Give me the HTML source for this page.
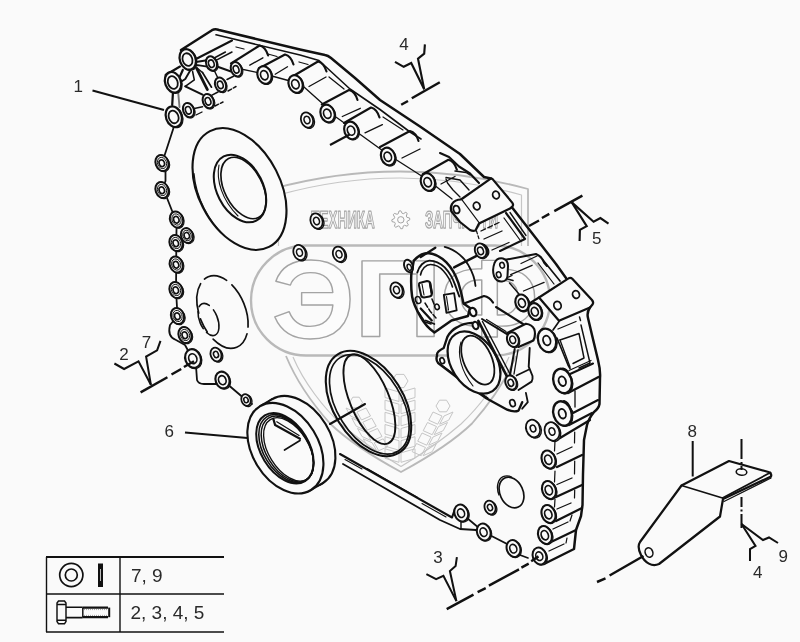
<!DOCTYPE html>
<html><head><meta charset="utf-8"><title>diagram</title>
<style>
html,body{margin:0;padding:0;background:#fafafa;}
svg{display:block;font-family:"Liberation Sans",sans-serif;}
</style></head><body>
<svg width="800" height="642" viewBox="0 0 800 642">
<defs><filter id="soft" x="0" y="0" width="100%" height="100%" filterUnits="userSpaceOnUse" color-interpolation-filters="sRGB"><feGaussianBlur stdDeviation="0.45"/></filter></defs>
<rect x="0" y="0" width="800" height="642" fill="#fafafa"/>
<g filter="url(#soft)">
<rect x="0" y="0" width="800" height="642" fill="#fafafa"/>
<g id="wm" stroke-linejoin="round">
<path d="M272,246 L272,189 Q400,154 528,189 L528,246" fill="none" stroke="#b9b9b9" stroke-width="1.8" />
<path d="M278.5,246 L278.5,195 Q400,161 521.5,195 L521.5,246" fill="none" stroke="#c6c6c6" stroke-width="1.2" />
<path d="M286,356 C298,385 318,410 330,423.5 C345,438 367,453.5 401,472 C435,453.5 457,438 472,423.5 C484,410 504,385 516,356" fill="none" stroke="#b9b9b9" stroke-width="1.8" />
<path d="M293,357 C304,383 324,408 341,424 C356,437 375,451 401,466.5 C427,451 446,437 461,424 C478,408 498,383 509,357" fill="none" stroke="#c6c6c6" stroke-width="1.2" />
<rect x="251" y="245.5" width="299" height="110" rx="55" ry="55" fill="none" stroke="#b9b9b9" stroke-width="2.4"/>
<text transform="translate(271.85,338.0) scale(1.168,1.117)" x="0" y="0" font-size="100" font-weight="bold" fill="#fcfcfc" stroke="#a4a4a4" stroke-width="1.4" vector-effect="non-scaling-stroke">Э</text>
<text transform="translate(353.7,336) scale(1.233,1.09)" x="0" y="0" font-size="100" font-weight="bold" fill="#fcfcfc" stroke="#a4a4a4" stroke-width="1.4" vector-effect="non-scaling-stroke">П</text>
<text transform="translate(440.5,335.6) scale(1.149,1.09)" x="0" y="0" font-size="100" font-weight="bold" fill="#fcfcfc" stroke="#a4a4a4" stroke-width="1.4" vector-effect="non-scaling-stroke">Ф</text>
<text x="311.3" y="227.7" font-size="24" font-weight="bold" fill="#f2f2f2" stroke="#a4a4a4" stroke-width="1.25" textLength="63.5" lengthAdjust="spacingAndGlyphs">ТЕХНИКА</text>
<text x="425" y="227.7" font-size="24" font-weight="bold" fill="#f2f2f2" stroke="#a4a4a4" stroke-width="1.25" textLength="73" lengthAdjust="spacingAndGlyphs">ЗАПЧАСТИ</text>
<path d="M409.6,218.0 L409.8,219.8 L407.3,221.1 L406.9,222.3 L408.3,224.8 L407.2,226.2 L404.5,225.3 L403.3,225.9 L402.6,228.6 L400.8,228.8 L399.5,226.3 L398.3,225.9 L395.8,227.3 L394.4,226.2 L395.3,223.5 L394.7,222.3 L392.0,221.6 L391.8,219.8 L394.3,218.5 L394.7,217.3 L393.3,214.8 L394.4,213.4 L397.1,214.3 L398.3,213.7 L399.0,211.0 L400.8,210.8 L402.1,213.3 L403.3,213.7 L405.8,212.3 L407.2,213.4 L406.3,216.1 L406.9,217.3Z" fill="#fcfcfc" stroke="#a4a4a4" stroke-width="1.0" />
<circle cx="400.8" cy="219.8" r="3.2" fill="#fafafa" stroke="#a4a4a4" stroke-width="1.0"/>
<path d="M385.0,388.0 L399.0,392.0 L399.0,401.5 L385.0,397.5 Z" fill="none" stroke="#c6c6c6" stroke-width="1.0" />
<path d="M415.0,388.0 L401.0,392.0 L401.0,401.5 L415.0,397.5 Z" fill="none" stroke="#c6c6c6" stroke-width="1.0" />
<path d="M385.0,400.2 L399.0,404.2 L399.0,413.7 L385.0,409.7 Z" fill="none" stroke="#c6c6c6" stroke-width="1.0" />
<path d="M415.0,400.2 L401.0,404.2 L401.0,413.7 L415.0,409.7 Z" fill="none" stroke="#c6c6c6" stroke-width="1.0" />
<path d="M385.0,412.3 L399.0,416.3 L399.0,425.8 L385.0,421.8 Z" fill="none" stroke="#c6c6c6" stroke-width="1.0" />
<path d="M415.0,412.3 L401.0,416.3 L401.0,425.8 L415.0,421.8 Z" fill="none" stroke="#c6c6c6" stroke-width="1.0" />
<path d="M385.0,424.5 L399.0,428.5 L399.0,438.0 L385.0,434.0 Z" fill="none" stroke="#c6c6c6" stroke-width="1.0" />
<path d="M415.0,424.5 L401.0,428.5 L401.0,438.0 L415.0,434.0 Z" fill="none" stroke="#c6c6c6" stroke-width="1.0" />
<path d="M385.0,436.7 L399.0,440.7 L399.0,450.2 L385.0,446.2 Z" fill="none" stroke="#c6c6c6" stroke-width="1.0" />
<path d="M415.0,436.7 L401.0,440.7 L401.0,450.2 L415.0,446.2 Z" fill="none" stroke="#c6c6c6" stroke-width="1.0" />
<path d="M385.0,448.8 L399.0,452.8 L399.0,462.3 L385.0,458.3 Z" fill="none" stroke="#c6c6c6" stroke-width="1.0" />
<path d="M415.0,448.8 L401.0,452.8 L401.0,462.3 L415.0,458.3 Z" fill="none" stroke="#c6c6c6" stroke-width="1.0" />
<path d="M408.0,381.0 L404.0,387.6 L396.0,387.6 L392.0,381.0 L396.0,374.4 L404.0,374.4Z" fill="none" stroke="#c6c6c6" stroke-width="1.0" />
<path d="M346.0,408.0 L355.0,412.0 L359.5,420.0 L350.5,416.0 Z" fill="none" stroke="#c6c6c6" stroke-width="1.0" />
<path d="M366.0,408.0 L357.0,412.0 L361.5,420.0 L370.5,416.0 Z" fill="none" stroke="#c6c6c6" stroke-width="1.0" />
<path d="M351.8,418.2 L360.8,422.2 L365.2,430.2 L356.2,426.2 Z" fill="none" stroke="#c6c6c6" stroke-width="1.0" />
<path d="M371.8,418.2 L362.8,422.2 L367.2,430.2 L376.2,426.2 Z" fill="none" stroke="#c6c6c6" stroke-width="1.0" />
<path d="M357.5,428.5 L366.5,432.5 L371.0,440.5 L362.0,436.5 Z" fill="none" stroke="#c6c6c6" stroke-width="1.0" />
<path d="M377.5,428.5 L368.5,432.5 L373.0,440.5 L382.0,436.5 Z" fill="none" stroke="#c6c6c6" stroke-width="1.0" />
<path d="M363.2,438.8 L372.2,442.8 L376.7,450.7 L367.7,446.7 Z" fill="none" stroke="#c6c6c6" stroke-width="1.0" />
<path d="M383.2,438.8 L374.2,442.8 L378.7,450.7 L387.7,446.7 Z" fill="none" stroke="#c6c6c6" stroke-width="1.0" />
<path d="M362.5,402.5 L359.2,407.8 L352.8,407.8 L349.5,402.5 L352.8,397.2 L359.2,397.2Z" fill="none" stroke="#c6c6c6" stroke-width="1.0" />
<path d="M433.0,412.0 L442.0,416.0 L437.7,424.2 L428.7,420.2 Z" fill="none" stroke="#c6c6c6" stroke-width="1.0" />
<path d="M453.0,412.0 L444.0,416.0 L439.7,424.2 L448.7,420.2 Z" fill="none" stroke="#c6c6c6" stroke-width="1.0" />
<path d="M427.5,422.5 L436.5,426.5 L432.2,434.7 L423.2,430.7 Z" fill="none" stroke="#c6c6c6" stroke-width="1.0" />
<path d="M447.5,422.5 L438.5,426.5 L434.2,434.7 L443.2,430.7 Z" fill="none" stroke="#c6c6c6" stroke-width="1.0" />
<path d="M422.0,433.0 L431.0,437.0 L426.7,445.2 L417.7,441.2 Z" fill="none" stroke="#c6c6c6" stroke-width="1.0" />
<path d="M442.0,433.0 L433.0,437.0 L428.7,445.2 L437.7,441.2 Z" fill="none" stroke="#c6c6c6" stroke-width="1.0" />
<path d="M416.5,443.5 L425.5,447.5 L421.2,455.7 L412.2,451.7 Z" fill="none" stroke="#c6c6c6" stroke-width="1.0" />
<path d="M436.5,443.5 L427.5,447.5 L423.2,455.7 L432.2,451.7 Z" fill="none" stroke="#c6c6c6" stroke-width="1.0" />
<path d="M450.0,406.0 L446.5,411.8 L439.5,411.8 L436.0,406.0 L439.5,400.2 L446.5,400.2Z" fill="none" stroke="#c6c6c6" stroke-width="1.0" />
</g>
<g id="housing" stroke-linecap="round" stroke-linejoin="round">
<path d="M181,50 L212,30.2 Q215,28.6 219,30 L300,49.5 L325,55 Q328,55.5 331,58 L355,78 L380,100 L420,126.5 L460,154 L484,177 L491,178.5" fill="none" stroke="#111" stroke-width="2.46" />
<path d="M216,34.8 L300,55 L319,60.5 L350,89 L380,109.5 L410,132 L421,139" fill="none" stroke="#111" stroke-width="1.57" />
<path d="M329,77 L344,89" fill="none" stroke="#111" stroke-width="1.23" />
<path d="M383,117 L403,130" fill="none" stroke="#111" stroke-width="1.23" />
<path d="M440,153 L449,157 L459,166.5 L470,173.5 L479,183" fill="none" stroke="#111" stroke-width="2.13" />
<path d="M195,59.5 L232,40.5" fill="none" stroke="#111" stroke-width="2.13" />
<path d="M216.4,60.2 L232,52" fill="none" stroke="#111" stroke-width="1.46" />
<path d="M165.6,75 L180,66.5" fill="none" stroke="#111" stroke-width="2.13" />
<path d="M231,63.5 L259.6,45.5 q6,1.5 8.5,10" fill="none" stroke="#111" stroke-width="2.13" />
<path d="M258.8,68.5 L285,54.5 q6,1.5 8.5,10" fill="none" stroke="#111" stroke-width="2.13" />
<path d="M290.7,77.5 L318,61.5 q6,1.5 8.5,10" fill="none" stroke="#111" stroke-width="2.13" />
<path d="M321.8,104.5 L349,90 q6,1.5 8.5,10" fill="none" stroke="#111" stroke-width="2.13" />
<path d="M344,123 L371,107.5 q6,1.5 8.5,10" fill="none" stroke="#111" stroke-width="2.13" />
<path d="M380,147 L410,131 q6,1.5 8.5,10" fill="none" stroke="#111" stroke-width="2.13" />
<path d="M422.7,174.3 L448.4,159.7 q6,1.5 8.5,10" fill="none" stroke="#111" stroke-width="2.13" />
<path d="M249.8,65.2 L262.9,57.8" fill="none" stroke="#111" stroke-width="1.34" />
<path d="M275.2,74.2 L287.5,66.8" fill="none" stroke="#111" stroke-width="1.34" />
<path d="M309,86.5 L326,77" fill="none" stroke="#111" stroke-width="1.34" />
<path d="M342.3,116.5 L360.3,108.3" fill="none" stroke="#111" stroke-width="1.34" />
<path d="M365,132.8 L382.4,124.6" fill="none" stroke="#111" stroke-width="1.34" />
<path d="M402,158 L420,149" fill="none" stroke="#111" stroke-width="1.34" />
<path d="M441,184 L455,176.5" fill="none" stroke="#111" stroke-width="1.34" />
<path d="M268,54 L277,56.5" fill="none" stroke="#111" stroke-width="1.23" />
<path d="M299,62 L308,64.5" fill="none" stroke="#111" stroke-width="1.23" />
<path d="M236,47 L244,49" fill="none" stroke="#111" stroke-width="1.23" />
<path d="M236.3,68 L264.5,74 L295.6,82.5 L304,87 L323,104 L327.5,111 L351.3,128 L388,154.5 L427.9,180 L452,199" fill="none" stroke="#111" stroke-width="1.34" />
<path d="M455,171 L466,172.5 L470,175" fill="none" stroke="#111" stroke-width="1.46" />
<path d="M446,177.5 L460,180 L469,190" fill="none" stroke="#111" stroke-width="1.46" />
<path d="M446,179 L447.5,183 L453,190 L460,197" fill="none" stroke="#111" stroke-width="1.34" />
<path d="M461,199.5 L490,179.2 Q491.5,178 493,179.6 L512.2,202.6 Q514,205 512,207 L510,208.5 L479,223.5 Z" fill="#fafafa" stroke="#111" stroke-width="2.24" />
<path d="M461,199.5 Q455,199.5 452,204 Q450,208 451.5,211.5 L460,222 L470,230 Q473,231.5 475.5,230.5 L479,223.5" fill="#fafafa" stroke="#111" stroke-width="2.24" />
<ellipse cx="456.5" cy="209.5" rx="3.0" ry="4.0" transform="rotate(-20 456.5 209.5)" fill="none" stroke="#111" stroke-width="1.9" />
<ellipse cx="476.7" cy="206" rx="3.3" ry="3.8" transform="rotate(-20 476.7 206)" fill="none" stroke="#111" stroke-width="1.79" />
<ellipse cx="496" cy="195" rx="3.3" ry="3.8" transform="rotate(-20 496 195)" fill="none" stroke="#111" stroke-width="1.79" />
<path d="M481,231 L499,222.5" fill="none" stroke="#111" stroke-width="1.34" stroke-dasharray="5 2.5"/>
<path d="M476.5,231 L479,239" fill="none" stroke="#111" stroke-width="1.23" stroke-dasharray="3 2"/>
<path d="M484,239 L502,231" fill="none" stroke="#111" stroke-width="1.34" />
<path d="M492,250 L509,242.5" fill="none" stroke="#111" stroke-width="1.34" />
<path d="M510.7,274.7 L532.1,265.3" fill="none" stroke="#111" stroke-width="1.34" />
<path d="M523.5,291 L544.1,282.4" fill="none" stroke="#111" stroke-width="1.34" />
<path d="M508.4,277.1 L512,275.5" fill="none" stroke="#111" stroke-width="1.34" />
<path d="M506,213 L525,239 L500,251" fill="none" stroke="#111" stroke-width="2.13" />
<path d="M504,218 L520,240" fill="none" stroke="#111" stroke-width="1.23" />
<path d="M510,212.5 L526,235.5" fill="none" stroke="#111" stroke-width="1.34" />
<path d="M512.5,208 L556,264 L566,278" fill="none" stroke="#111" stroke-width="2.46" />
<path d="M543,260 L560,281" fill="none" stroke="#111" stroke-width="1.68" />
<path d="M538,263 L554,284" fill="none" stroke="#111" stroke-width="1.23" />
<path d="M503.8,260.1 L536,254 Q541.5,256 544,262.5 L547,266" fill="none" stroke="#111" stroke-width="2.02" />
<path d="M521,263.5 L537,256" fill="none" stroke="#111" stroke-width="1.23" />
<path d="M503,258.5 Q497,257.5 494.5,263 Q492,270 494,276 Q496.5,282 502,281.5 Q507,281 507.5,276 L508,266 Q508,260 503,258.5 Z" fill="#fafafa" stroke="#111" stroke-width="2.02" />
<ellipse cx="502.1" cy="265.3" rx="2.3" ry="2.9" transform="rotate(-15 502.1 265.3)" fill="none" stroke="#111" stroke-width="1.57" />
<ellipse cx="498.7" cy="274.7" rx="2.3" ry="2.9" transform="rotate(-15 498.7 274.7)" fill="none" stroke="#111" stroke-width="1.57" />
<path d="M507.5,279 L513,280.5" fill="none" stroke="#111" stroke-width="1.57" />
<path d="M529,303.7 L539,297.5" fill="none" stroke="#111" stroke-width="2.13" />
<path d="M539,297.5 L568.5,278.4 Q570.5,277 572.3,278.8 L592,300 Q594,302.5 592.5,304.5 L590,307.5 L559,320.8 Z" fill="#fafafa" stroke="#111" stroke-width="2.24" />
<ellipse cx="557.5" cy="305.5" rx="3.6" ry="4.2" transform="rotate(-20 557.5 305.5)" fill="none" stroke="#111" stroke-width="1.79" />
<ellipse cx="576" cy="294.5" rx="3.4" ry="3.9" transform="rotate(-20 576 294.5)" fill="none" stroke="#111" stroke-width="1.79" />
<path d="M590,307.5 C587.5,311 587,314 588,318 L592,335 L598,360 C600,368 600.5,372 600,378 L599.5,404 C599,407 598,409 594,412 C590,417 588,421 587,425 L584,440 L583,474 L582.5,505 L581,516 L576,530 L574,549 L544,564" fill="none" stroke="#111" stroke-width="2.46" />
<path d="M559,321.5 L553,330" fill="none" stroke="#111" stroke-width="1.68" />
<path d="M558,329 L576,321.5" fill="none" stroke="#111" stroke-width="1.34" />
<path d="M557,338 L568,365 L570,368.5" fill="none" stroke="#111" stroke-width="1.68" />
<path d="M560,340 L579,333.5 L584,358 L573,363.5" fill="none" stroke="#111" stroke-width="1.46" />
<path d="M560,340 L570,367" fill="none" stroke="#111" stroke-width="1.34" />
<path d="M581,325 L590,363 L579,368" fill="none" stroke="#111" stroke-width="1.46" />
<path d="M579.5,317 L580.5,320.5" fill="none" stroke="#111" stroke-width="1.46" />
<path d="M563,368.5 Q567,369 569,374.5 L593,363.5" fill="none" stroke="#111" stroke-width="2.13" />
<path d="M569,370.5 L591,360.5" fill="none" stroke="#111" stroke-width="1.23" />
<path d="M568,393 L598.5,377" fill="none" stroke="#111" stroke-width="2.35" />
<path d="M575,391 L575,407" fill="none" stroke="#111" stroke-width="1.34" />
<path d="M564,401 Q568,402 570,408 L573,413 L598,400" fill="none" stroke="#111" stroke-width="2.13" />
<path d="M569,425 L592,413" fill="none" stroke="#111" stroke-width="2.24" />
<path d="M560,438 L590,420" fill="none" stroke="#111" stroke-width="2.24" />
<path d="M557,467 L582,455" fill="none" stroke="#111" stroke-width="2.24" />
<path d="M556,497 L582,485" fill="none" stroke="#111" stroke-width="2.24" />
<path d="M556,521 L582,508" fill="none" stroke="#111" stroke-width="2.24" />
<path d="M551,542 L576,530" fill="none" stroke="#111" stroke-width="2.24" />
<path d="M557,454 L572,447" fill="none" stroke="#111" stroke-width="1.34" />
<path d="M557,484.5 L572,478" fill="none" stroke="#111" stroke-width="1.34" />
<path d="M557,509 L571,503" fill="none" stroke="#111" stroke-width="1.34" />
<path d="M553,529 L568,522" fill="none" stroke="#111" stroke-width="1.34" />
<path d="M549,551 L564,544" fill="none" stroke="#111" stroke-width="1.34" />
<path d="M555,441 L554.5,451" fill="none" stroke="#111" stroke-width="1.23" />
<path d="M555,471 L554.5,482" fill="none" stroke="#111" stroke-width="1.23" />
<path d="M555,499 L554.5,507" fill="none" stroke="#111" stroke-width="1.23" />
<path d="M574.7,432 L574.5,443" fill="none" stroke="#111" stroke-width="1.23" />
<path d="M574.7,461 L574.5,474" fill="none" stroke="#111" stroke-width="1.23" />
<path d="M574.7,490 L574.5,498" fill="none" stroke="#111" stroke-width="1.23" />
<path d="M572,515 L570,521" fill="none" stroke="#111" stroke-width="1.23" />
<path d="M567,538 L566,543" fill="none" stroke="#111" stroke-width="1.23" />
<path d="M340,454 L452,517.5 L455,509" fill="none" stroke="#111" stroke-width="2.13" />
<path d="M343,464 L440,520 L460,529 L476,530" fill="none" stroke="#111" stroke-width="1.79" />
<path d="M345,459.5 L362,469" fill="none" stroke="#111" stroke-width="1.12" />
<path d="M367.4,468.7 L417.2,497.3" fill="none" stroke="#111" stroke-width="1.23" />
<path d="M422,503.5 L446,517" fill="none" stroke="#111" stroke-width="1.12" />
<path d="M461,514 L461,528.5" fill="none" stroke="#111" stroke-width="1.46" />
<path d="M461,513 L483.75,532 L513,547 L520,555 L528,558" fill="none" stroke="#111" stroke-width="1.68" />
<path d="M174,116 L173.5,128 L166,151 L162,163 L165.5,171 L165.5,181 L162,190 L167,198 L172.5,212 L176.75,219.5 L176.25,241 L176.25,264 L176,290 L177.5,316" fill="none" stroke="#111" stroke-width="1.79" />
<path d="M177.5,316 L170,325 C168,333 170,338 176,340 L185,345 L192.5,358.75" fill="none" stroke="#111" stroke-width="1.79" />
<path d="M196,366 L197,380 C198,383 200,384 204,384 L216,384" fill="none" stroke="#111" stroke-width="1.79" />
<path d="M222.5,380 L246,400 L252,404" fill="none" stroke="#111" stroke-width="1.79" />
<path d="M182.8,70 L179.5,77.4" fill="none" stroke="#111" stroke-width="2.24" />
<path d="M190.2,70.5 L185.3,79 L181.5,81.5" fill="none" stroke="#111" stroke-width="1.9" />
<path d="M194.3,62.3 L207,60.2" fill="none" stroke="#111" stroke-width="1.9" />
<path d="M193.5,66.7 L197.6,65.1 L207.4,66.7" fill="none" stroke="#111" stroke-width="1.79" />
<path d="M217,66.5 L231,71.5" fill="none" stroke="#111" stroke-width="1.9" />
<path d="M196.7,68.4 L207.4,89.6" fill="none" stroke="#111" stroke-width="2.8" />
<path d="M202.5,72.5 L211.5,87.2" fill="none" stroke="#111" stroke-width="1.68" />
<path d="M197,68 L202.5,72.5" fill="none" stroke="#111" stroke-width="1.57" />
<path d="M192.6,71.6 L194.3,79.8 L185.3,86.4" fill="none" stroke="#111" stroke-width="1.57" />
<path d="M185.3,86.4 L202.5,94.6" fill="none" stroke="#111" stroke-width="2.13" />
<path d="M173,92 L172.2,105" fill="none" stroke="#111" stroke-width="2.24" />
<path d="M178,90.5 L179.5,107" stroke="#777" stroke-width="1.9" fill="none"/>
<path d="M214.7,57.7 L225.4,52" fill="none" stroke="#111" stroke-width="1.57" />
<path d="M218,78.2 L214.5,71" fill="none" stroke="#111" stroke-width="1.46" />
<path d="M227,79.5 L233.5,76.3" fill="none" stroke="#111" stroke-width="1.57" />
<path d="M211.5,95.4 L218,92" fill="none" stroke="#111" stroke-width="1.57" />
<path d="M194.3,108.4 L202.5,106.8" fill="none" stroke="#111" stroke-width="1.57" />
<path d="M228,91 L236,86.5" fill="none" stroke="#111" stroke-width="1.46" stroke-dasharray="4 2"/>
<path d="M215,106 L223,102" fill="none" stroke="#111" stroke-width="1.46" stroke-dasharray="4 2"/>
<path d="M196,115 L202,112" fill="none" stroke="#111" stroke-width="1.34" />
</g>
<g id="rings" stroke-linecap="round">
<ellipse cx="239.5" cy="189" rx="41" ry="65" transform="rotate(-27 239.5 189)" fill="#fafafa" stroke="#111" stroke-width="2.13" />
<ellipse cx="240.8" cy="190" rx="41" ry="65" transform="rotate(-27 240.8 190)" fill="none" stroke="#111" stroke-width="1.12" stroke-dasharray="70 400" stroke-dashoffset="-135"/>
<ellipse cx="240" cy="188.5" rx="23" ry="36" transform="rotate(-27 240 188.5)" fill="#fafafa" stroke="#111" stroke-width="2.02" />
<ellipse cx="243.5" cy="188" rx="19" ry="33" transform="rotate(-27 243.5 188)" fill="none" stroke="#111" stroke-width="1.68" />
<path d="M219,165 C216,180 222,200 238,216" fill="none" stroke="#111" stroke-width="1.12" />
<ellipse cx="222.5" cy="312" rx="23" ry="38" transform="rotate(-22 222.5 312)" fill="none" stroke="#111" stroke-width="1.68" stroke-dasharray="24 7 44 9 15 6 30 6"/>
<ellipse cx="208.5" cy="319.5" rx="9" ry="17" transform="rotate(-22 208.5 319.5)" fill="none" stroke="#111" stroke-width="1.57" stroke-dasharray="30 5 18 5 12 6"/>
<ellipse cx="368.5" cy="403.5" rx="35" ry="58" transform="rotate(-32 368.5 403.5)" fill="none" stroke="#111" stroke-width="2.13" />
<ellipse cx="369.3" cy="404.3" rx="32" ry="55" transform="rotate(-32 369.3 404.3)" fill="none" stroke="#111" stroke-width="1.68" />
<ellipse cx="369.4" cy="399.2" rx="19.5" ry="48" transform="rotate(-23 369.4 399.2)" fill="none" stroke="#111" stroke-width="1.9" />
<path d="M330,424 L365,404" fill="none" stroke="#111" stroke-width="2.13" />
</g>
<g id="seal" stroke-linecap="round">
<ellipse cx="297.4" cy="441.2" rx="33" ry="49" transform="rotate(-31.5 297.4 441.2)" fill="#fafafa" stroke="#111" stroke-width="2.13" />
<path d="M260.2,406.2 L272.2,399.2 L322.6,483.2 L310.6,490.2 Z" fill="#fafafa" stroke="none"/>
<path d="M260.2,406.2 L272.2,399.2" fill="none" stroke="#111" stroke-width="2.13" />
<path d="M310.6,490.2 L322.6,483.2" fill="none" stroke="#111" stroke-width="2.13" />
<ellipse cx="285.4" cy="448.2" rx="33" ry="49" transform="rotate(-31.5 285.4 448.2)" fill="#fafafa" stroke="#111" stroke-width="2.13" />
<ellipse cx="284.9" cy="448.2" rx="24" ry="38.5" transform="rotate(-31.5 284.9 448.2)" fill="#fafafa" stroke="#111" stroke-width="2.02" />
<ellipse cx="286.2" cy="448.6" rx="22.6" ry="37.3" transform="rotate(-31.5 286.2 448.6)" fill="none" stroke="#111" stroke-width="1.57" />
<ellipse cx="287.4" cy="449.0" rx="21.3" ry="36.2" transform="rotate(-31.5 287.4 449.0)" fill="none" stroke="#111" stroke-width="1.46" />
<ellipse cx="288.6" cy="449.4" rx="20.0" ry="35.0" transform="rotate(-31.5 288.6 449.4)" fill="none" stroke="#111" stroke-width="1.34" />
<path d="M273.4,419.1 L275.1,425.1 L300,438.8" fill="none" stroke="#111" stroke-width="2.24" />
<path d="M276.8,421.7 L299.1,435.4" fill="none" stroke="#111" stroke-width="1.23" />
<path d="M300,440.5 L284.5,450" fill="none" stroke="#111" stroke-width="1.68" />
</g>
<g id="flanges" stroke-linecap="round" stroke-linejoin="round">
<path d="M444.7,246.9 C456,250 465,258 468.7,265.7 C473,273 475,280 475.5,286" fill="none" stroke="#111" stroke-width="1.79" />
<path d="M420.7,257.1 L435.3,247.7" fill="none" stroke="#111" stroke-width="2.24" />
<path d="M413.8,260.6 C418,256 424,253 428,253 C436,254 442,258 446.4,262.3 C452,268 456,276 458.4,282.8 C461,291 462.5,298 463.5,303.4 L470,308 L468,316 L451.5,320.5 L434.4,332.5 C428,328 424,323 420.7,317.1 C416,309 413,302 412.1,296.5 C411,289 411,281 411.3,274.3 Z" fill="none" stroke="#111" stroke-width="2.46" />
<path d="M417.3,272.6 C419,266 424,261 429.3,260.6 C435,260.5 440,263 444.7,267.4 C450,273 453,279 455,284.6 L459.3,296.5" fill="none" stroke="#111" stroke-width="1.9" />
<path d="M420.5,275 C421.5,269 426,264.5 430.5,264.5 C436,264.5 440,267 443.5,271 C448,276 451,282 452.5,287" fill="none" stroke="#111" stroke-width="1.57" />
<ellipse cx="408.5" cy="266" rx="4.2" ry="6.5" transform="rotate(-20 408.5 266)" fill="#fafafa" stroke="#111" stroke-width="1.9" />
<ellipse cx="409.3" cy="267.3" rx="2.0" ry="3.2" transform="rotate(-20 409.3 267.3)" fill="none" stroke="#111" stroke-width="1.46" />
<path d="M419.5,283 L427,281 Q429.5,281 430,283 L431.8,293.5 Q432,296 429.5,296.5 L424,297.5 Q421.5,297.5 421,295 L419,285.5 Q418.8,283.4 419.5,283" fill="none" stroke="#111" stroke-width="2.02" />
<path d="M430,283 L431.8,293" fill="none" stroke="#111" stroke-width="2.46" />
<path d="M420.7,308.5 L431.8,320.5" fill="none" stroke="#111" stroke-width="2.24" />
<path d="M425.8,320.5 L434.4,324" fill="none" stroke="#111" stroke-width="1.79" />
<path d="M422,284 L424,295" fill="none" stroke="#111" stroke-width="1.12" />
<path d="M443.8,294.8 L454.1,293.1 L456.7,310.3 L446.4,312.8 Z" fill="none" stroke="#111" stroke-width="1.79" />
<path d="M446.5,296.5 L448.5,310" fill="none" stroke="#111" stroke-width="1.12" />
<ellipse cx="418.1" cy="300" rx="2.6" ry="3.6" transform="rotate(-20 418.1 300)" fill="none" stroke="#111" stroke-width="1.57" />
<ellipse cx="437" cy="306.8" rx="2.2" ry="2.8" transform="rotate(-20 437 306.8)" fill="none" stroke="#111" stroke-width="1.57" />
<path d="M425,303 L430,311 L436,318" fill="none" stroke="#111" stroke-width="1.46" stroke-dasharray="5 2"/>
<path d="M419,313 L425,322 L431,324" fill="none" stroke="#111" stroke-width="1.46" />
<path d="M432,299 L434,304" fill="none" stroke="#111" stroke-width="1.57" />
<path d="M454.1,267.4 L479,254.6" fill="none" stroke="#111" stroke-width="2.35" />
<path d="M464,303.5 L484,296 Q489.5,297 493,302.5" fill="none" stroke="#111" stroke-width="2.24" />
<path d="M496,307 L523,324" fill="none" stroke="#111" stroke-width="2.13" />
<path d="M509.5,283 L519,294" fill="none" stroke="#111" stroke-width="1.34" />
<path d="M478.3,323.7 L471.7,322.8 Q464,323 456.8,327.4 Q451,330.5 447.4,336.8 L443.7,348 Q436,352 437.1,355.5 Q435.5,360 438.1,363 L462.4,381.6 L486.7,398.5 L507.2,409.7 Q514,412.5 518.5,410.6 L522.2,402.2" fill="none" stroke="#111" stroke-width="2.35" />
<path d="M441,364.5 L463,381 L488,398" fill="none" stroke="#111" stroke-width="1.12" />
<ellipse cx="474" cy="362.6" rx="22.5" ry="34" transform="rotate(-33 474 362.6)" fill="#fafafa" stroke="#111" stroke-width="2.24" />
<ellipse cx="477.8" cy="360.1" rx="14" ry="26" transform="rotate(-24 477.8 360.1)" fill="none" stroke="#111" stroke-width="1.79" />
<path d="M461,342 C457,354 461,371 473,386" fill="none" stroke="#111" stroke-width="1.12" />
<path d="M478.3,320.9 L508.2,378.8" fill="none" stroke="#111" stroke-width="2.58" />
<path d="M482.5,321.5 L510,374" fill="none" stroke="#111" stroke-width="1.46" />
<path d="M482,319 L508.2,334.9" fill="none" stroke="#111" stroke-width="2.02" />
<path d="M486.5,319.5 L506,331.5" fill="none" stroke="#111" stroke-width="1.34" />
<path d="M514.7,348.9 L510,375.1" fill="none" stroke="#111" stroke-width="2.02" />
<path d="M518,350 L514,374" fill="none" stroke="#111" stroke-width="1.34" />
<path d="M507.2,333 L525.9,323.7 Q532,324.5 534.3,329.3 Q536,335 533.4,340.5 L518.5,347" fill="none" stroke="#111" stroke-width="2.13" />
<path d="M529.7,348 L528.7,366.7 L532.5,376 Q533,379.5 531.6,381.6 L518.5,390" fill="none" stroke="#111" stroke-width="1.9" />
<path d="M516.5,375.5 L529,369.5" fill="none" stroke="#111" stroke-width="1.68" />
<path d="M525.9,392.9 L527.8,402.2 L522.2,408.7" fill="none" stroke="#111" stroke-width="1.79" />
<ellipse cx="473" cy="312" rx="3.2" ry="4.3" transform="rotate(-20 473 312)" fill="#fafafa" stroke="#111" stroke-width="2.24" />
<ellipse cx="475.5" cy="325.5" rx="2.8" ry="3.8" transform="rotate(-20 475.5 325.5)" fill="#fafafa" stroke="#111" stroke-width="2.02" />
<ellipse cx="442.2" cy="360.7" rx="2.2" ry="3.0" transform="rotate(-20 442.2 360.7)" fill="none" stroke="#111" stroke-width="1.68" />
</g>
<g id="bosses">
<ellipse cx="188.7" cy="60.1" rx="7.843999999999999" ry="10.6" transform="rotate(-20 188.7 60.1)" fill="#fafafa" stroke="#111" stroke-width="1.12" />
<ellipse cx="187.7" cy="59.4" rx="7.843999999999999" ry="10.6" transform="rotate(-20 187.7 59.4)" fill="#fafafa" stroke="#111" stroke-width="2.24" />
<ellipse cx="187.5" cy="59.6" rx="4.81" ry="6.5" transform="rotate(-20 187.5 59.6)" fill="#fafafa" stroke="#111" stroke-width="1.79" />
<ellipse cx="174.0" cy="83.0" rx="7.843999999999999" ry="10.6" transform="rotate(-20 174.0 83.0)" fill="#fafafa" stroke="#111" stroke-width="1.12" />
<ellipse cx="173" cy="82.3" rx="7.843999999999999" ry="10.6" transform="rotate(-20 173 82.3)" fill="#fafafa" stroke="#111" stroke-width="2.24" />
<ellipse cx="172.8" cy="82.5" rx="4.81" ry="6.5" transform="rotate(-20 172.8 82.5)" fill="#fafafa" stroke="#111" stroke-width="1.79" />
<ellipse cx="174.8" cy="117.4" rx="7.843999999999999" ry="10.6" transform="rotate(-20 174.8 117.4)" fill="#fafafa" stroke="#111" stroke-width="1.12" />
<ellipse cx="173.8" cy="116.7" rx="7.843999999999999" ry="10.6" transform="rotate(-20 173.8 116.7)" fill="#fafafa" stroke="#111" stroke-width="2.24" />
<ellipse cx="173.60000000000002" cy="116.9" rx="4.81" ry="6.5" transform="rotate(-20 173.60000000000002 116.9)" fill="#fafafa" stroke="#111" stroke-width="1.79" />
<ellipse cx="212.5" cy="64.2" rx="5.328" ry="7.4" transform="rotate(-20 212.5 64.2)" fill="#fafafa" stroke="#111" stroke-width="1.12" />
<ellipse cx="211.5" cy="63.5" rx="5.328" ry="7.4" transform="rotate(-20 211.5 63.5)" fill="#fafafa" stroke="#111" stroke-width="2.02" />
<ellipse cx="211.3" cy="63.7" rx="2.7359999999999998" ry="3.8" transform="rotate(-20 211.3 63.7)" fill="#fafafa" stroke="#111" stroke-width="1.61" />
<ellipse cx="237.3" cy="69.9" rx="5.328" ry="7.4" transform="rotate(-20 237.3 69.9)" fill="#fafafa" stroke="#111" stroke-width="1.12" />
<ellipse cx="236.3" cy="69.2" rx="5.328" ry="7.4" transform="rotate(-20 236.3 69.2)" fill="#fafafa" stroke="#111" stroke-width="2.02" />
<ellipse cx="236.10000000000002" cy="69.4" rx="2.7359999999999998" ry="3.8" transform="rotate(-20 236.10000000000002 69.4)" fill="#fafafa" stroke="#111" stroke-width="1.61" />
<ellipse cx="221.5" cy="85.4" rx="5.328" ry="7.4" transform="rotate(-20 221.5 85.4)" fill="#fafafa" stroke="#111" stroke-width="1.12" />
<ellipse cx="220.5" cy="84.7" rx="5.328" ry="7.4" transform="rotate(-20 220.5 84.7)" fill="#fafafa" stroke="#111" stroke-width="2.02" />
<ellipse cx="220.3" cy="84.9" rx="2.7359999999999998" ry="3.8" transform="rotate(-20 220.3 84.9)" fill="#fafafa" stroke="#111" stroke-width="1.61" />
<ellipse cx="209.2" cy="101.8" rx="5.328" ry="7.4" transform="rotate(-20 209.2 101.8)" fill="#fafafa" stroke="#111" stroke-width="1.12" />
<ellipse cx="208.2" cy="101.1" rx="5.328" ry="7.4" transform="rotate(-20 208.2 101.1)" fill="#fafafa" stroke="#111" stroke-width="2.02" />
<ellipse cx="208.0" cy="101.3" rx="2.7359999999999998" ry="3.8" transform="rotate(-20 208.0 101.3)" fill="#fafafa" stroke="#111" stroke-width="1.61" />
<ellipse cx="189.5" cy="110.8" rx="5.328" ry="7.4" transform="rotate(-20 189.5 110.8)" fill="#fafafa" stroke="#111" stroke-width="1.12" />
<ellipse cx="188.5" cy="110.1" rx="5.328" ry="7.4" transform="rotate(-20 188.5 110.1)" fill="#fafafa" stroke="#111" stroke-width="2.02" />
<ellipse cx="188.3" cy="110.3" rx="2.7359999999999998" ry="3.8" transform="rotate(-20 188.3 110.3)" fill="#fafafa" stroke="#111" stroke-width="1.61" />
<ellipse cx="265.5" cy="75.7" rx="6.93" ry="9" transform="rotate(-20 265.5 75.7)" fill="#fafafa" stroke="#111" stroke-width="1.12" />
<ellipse cx="264.5" cy="75" rx="6.93" ry="9" transform="rotate(-20 264.5 75)" fill="#fafafa" stroke="#111" stroke-width="2.13" />
<ellipse cx="264.3" cy="75.2" rx="3.619" ry="4.7" transform="rotate(-20 264.3 75.2)" fill="#fafafa" stroke="#111" stroke-width="1.7" />
<ellipse cx="296.6" cy="84.7" rx="6.93" ry="9" transform="rotate(-20 296.6 84.7)" fill="#fafafa" stroke="#111" stroke-width="1.12" />
<ellipse cx="295.6" cy="84" rx="6.93" ry="9" transform="rotate(-20 295.6 84)" fill="#fafafa" stroke="#111" stroke-width="2.13" />
<ellipse cx="295.40000000000003" cy="84.2" rx="3.619" ry="4.7" transform="rotate(-20 295.40000000000003 84.2)" fill="#fafafa" stroke="#111" stroke-width="1.7" />
<ellipse cx="328.5" cy="114.2" rx="6.93" ry="9" transform="rotate(-20 328.5 114.2)" fill="#fafafa" stroke="#111" stroke-width="1.12" />
<ellipse cx="327.5" cy="113.5" rx="6.93" ry="9" transform="rotate(-20 327.5 113.5)" fill="#fafafa" stroke="#111" stroke-width="2.13" />
<ellipse cx="327.3" cy="113.7" rx="3.619" ry="4.7" transform="rotate(-20 327.3 113.7)" fill="#fafafa" stroke="#111" stroke-width="1.7" />
<ellipse cx="352.3" cy="131.1" rx="6.93" ry="9" transform="rotate(-20 352.3 131.1)" fill="#fafafa" stroke="#111" stroke-width="1.12" />
<ellipse cx="351.3" cy="130.4" rx="6.93" ry="9" transform="rotate(-20 351.3 130.4)" fill="#fafafa" stroke="#111" stroke-width="2.13" />
<ellipse cx="351.1" cy="130.6" rx="3.619" ry="4.7" transform="rotate(-20 351.1 130.6)" fill="#fafafa" stroke="#111" stroke-width="1.7" />
<ellipse cx="389.0" cy="157.2" rx="6.93" ry="9" transform="rotate(-20 389.0 157.2)" fill="#fafafa" stroke="#111" stroke-width="1.12" />
<ellipse cx="388" cy="156.5" rx="6.93" ry="9" transform="rotate(-20 388 156.5)" fill="#fafafa" stroke="#111" stroke-width="2.13" />
<ellipse cx="387.8" cy="156.7" rx="3.619" ry="4.7" transform="rotate(-20 387.8 156.7)" fill="#fafafa" stroke="#111" stroke-width="1.7" />
<ellipse cx="428.9" cy="182.7" rx="6.93" ry="9" transform="rotate(-20 428.9 182.7)" fill="#fafafa" stroke="#111" stroke-width="1.12" />
<ellipse cx="427.9" cy="182" rx="6.93" ry="9" transform="rotate(-20 427.9 182)" fill="#fafafa" stroke="#111" stroke-width="2.13" />
<ellipse cx="427.7" cy="182.2" rx="3.619" ry="4.7" transform="rotate(-20 427.7 182.2)" fill="#fafafa" stroke="#111" stroke-width="1.7" />
<path d="M330,145 L349.6,134.5" fill="none" stroke="#111" stroke-width="2.13" />
<ellipse cx="163.0" cy="163.7" rx="6.396" ry="8.2" transform="rotate(-20 163.0 163.7)" fill="#fafafa" stroke="#111" stroke-width="1.12" />
<ellipse cx="162" cy="163" rx="6.396" ry="8.2" transform="rotate(-20 162 163)" fill="#fafafa" stroke="#111" stroke-width="2.02" />
<ellipse cx="162" cy="163" rx="4.4772" ry="5.739999999999999" transform="rotate(-20 162 163)" fill="#fafafa" stroke="#111" stroke-width="0.9" />
<ellipse cx="161.8" cy="163.2" rx="2.652" ry="3.4" transform="rotate(-20 161.8 163.2)" fill="#fafafa" stroke="#111" stroke-width="1.61" />
<ellipse cx="163.0" cy="190.7" rx="6.396" ry="8.2" transform="rotate(-20 163.0 190.7)" fill="#fafafa" stroke="#111" stroke-width="1.12" />
<ellipse cx="162" cy="190" rx="6.396" ry="8.2" transform="rotate(-20 162 190)" fill="#fafafa" stroke="#111" stroke-width="2.02" />
<ellipse cx="162" cy="190" rx="4.4772" ry="5.739999999999999" transform="rotate(-20 162 190)" fill="#fafafa" stroke="#111" stroke-width="0.9" />
<ellipse cx="161.8" cy="190.2" rx="2.652" ry="3.4" transform="rotate(-20 161.8 190.2)" fill="#fafafa" stroke="#111" stroke-width="1.61" />
<ellipse cx="177.5" cy="220.2" rx="6.396" ry="8.2" transform="rotate(-20 177.5 220.2)" fill="#fafafa" stroke="#111" stroke-width="1.12" />
<ellipse cx="176.5" cy="219.5" rx="6.396" ry="8.2" transform="rotate(-20 176.5 219.5)" fill="#fafafa" stroke="#111" stroke-width="2.02" />
<ellipse cx="176.5" cy="219.5" rx="4.4772" ry="5.739999999999999" transform="rotate(-20 176.5 219.5)" fill="#fafafa" stroke="#111" stroke-width="0.9" />
<ellipse cx="176.3" cy="219.7" rx="2.652" ry="3.4" transform="rotate(-20 176.3 219.7)" fill="#fafafa" stroke="#111" stroke-width="1.61" />
<ellipse cx="177.0" cy="243.7" rx="6.396" ry="8.2" transform="rotate(-20 177.0 243.7)" fill="#fafafa" stroke="#111" stroke-width="1.12" />
<ellipse cx="176" cy="243" rx="6.396" ry="8.2" transform="rotate(-20 176 243)" fill="#fafafa" stroke="#111" stroke-width="2.02" />
<ellipse cx="176" cy="243" rx="4.4772" ry="5.739999999999999" transform="rotate(-20 176 243)" fill="#fafafa" stroke="#111" stroke-width="0.9" />
<ellipse cx="175.8" cy="243.2" rx="2.652" ry="3.4" transform="rotate(-20 175.8 243.2)" fill="#fafafa" stroke="#111" stroke-width="1.61" />
<ellipse cx="177.25" cy="265.2" rx="6.396" ry="8.2" transform="rotate(-20 177.25 265.2)" fill="#fafafa" stroke="#111" stroke-width="1.12" />
<ellipse cx="176.25" cy="264.5" rx="6.396" ry="8.2" transform="rotate(-20 176.25 264.5)" fill="#fafafa" stroke="#111" stroke-width="2.02" />
<ellipse cx="176.25" cy="264.5" rx="4.4772" ry="5.739999999999999" transform="rotate(-20 176.25 264.5)" fill="#fafafa" stroke="#111" stroke-width="0.9" />
<ellipse cx="176.05" cy="264.7" rx="2.652" ry="3.4" transform="rotate(-20 176.05 264.7)" fill="#fafafa" stroke="#111" stroke-width="1.61" />
<ellipse cx="177.0" cy="290.7" rx="6.396" ry="8.2" transform="rotate(-20 177.0 290.7)" fill="#fafafa" stroke="#111" stroke-width="1.12" />
<ellipse cx="176" cy="290" rx="6.396" ry="8.2" transform="rotate(-20 176 290)" fill="#fafafa" stroke="#111" stroke-width="2.02" />
<ellipse cx="176" cy="290" rx="4.4772" ry="5.739999999999999" transform="rotate(-20 176 290)" fill="#fafafa" stroke="#111" stroke-width="0.9" />
<ellipse cx="175.8" cy="290.2" rx="2.652" ry="3.4" transform="rotate(-20 175.8 290.2)" fill="#fafafa" stroke="#111" stroke-width="1.61" />
<ellipse cx="178.5" cy="316.7" rx="6.396" ry="8.2" transform="rotate(-20 178.5 316.7)" fill="#fafafa" stroke="#111" stroke-width="1.12" />
<ellipse cx="177.5" cy="316" rx="6.396" ry="8.2" transform="rotate(-20 177.5 316)" fill="#fafafa" stroke="#111" stroke-width="2.02" />
<ellipse cx="177.5" cy="316" rx="4.4772" ry="5.739999999999999" transform="rotate(-20 177.5 316)" fill="#fafafa" stroke="#111" stroke-width="0.9" />
<ellipse cx="177.3" cy="316.2" rx="2.652" ry="3.4" transform="rotate(-20 177.3 316.2)" fill="#fafafa" stroke="#111" stroke-width="1.61" />
<ellipse cx="186.0" cy="335.7" rx="6.396" ry="8.2" transform="rotate(-20 186.0 335.7)" fill="#fafafa" stroke="#111" stroke-width="1.12" />
<ellipse cx="185" cy="335" rx="6.396" ry="8.2" transform="rotate(-20 185 335)" fill="#fafafa" stroke="#111" stroke-width="2.02" />
<ellipse cx="185" cy="335" rx="4.4772" ry="5.739999999999999" transform="rotate(-20 185 335)" fill="#fafafa" stroke="#111" stroke-width="0.9" />
<ellipse cx="184.8" cy="335.2" rx="2.652" ry="3.4" transform="rotate(-20 184.8 335.2)" fill="#fafafa" stroke="#111" stroke-width="1.61" />
<ellipse cx="188.0" cy="236.2" rx="5.928" ry="7.6" transform="rotate(-20 188.0 236.2)" fill="#fafafa" stroke="#111" stroke-width="1.12" />
<ellipse cx="187" cy="235.5" rx="5.928" ry="7.6" transform="rotate(-20 187 235.5)" fill="#fafafa" stroke="#111" stroke-width="1.9" />
<ellipse cx="187" cy="235.5" rx="4.1495999999999995" ry="5.319999999999999" transform="rotate(-20 187 235.5)" fill="#fafafa" stroke="#111" stroke-width="0.9" />
<ellipse cx="186.8" cy="235.7" rx="2.574" ry="3.3" transform="rotate(-20 186.8 235.7)" fill="#fafafa" stroke="#111" stroke-width="1.52" />
<ellipse cx="194.0" cy="359.2" rx="7.68" ry="9.6" transform="rotate(-20 194.0 359.2)" fill="#fafafa" stroke="#111" stroke-width="1.12" />
<ellipse cx="193" cy="358.5" rx="7.68" ry="9.6" transform="rotate(-20 193 358.5)" fill="#fafafa" stroke="#111" stroke-width="2.13" />
<ellipse cx="192.8" cy="358.7" rx="4.0" ry="5" transform="rotate(-20 192.8 358.7)" fill="#fafafa" stroke="#111" stroke-width="1.7" />
<ellipse cx="223.5" cy="380.7" rx="6.88" ry="8.6" transform="rotate(-20 223.5 380.7)" fill="#fafafa" stroke="#111" stroke-width="1.12" />
<ellipse cx="222.5" cy="380" rx="6.88" ry="8.6" transform="rotate(-20 222.5 380)" fill="#fafafa" stroke="#111" stroke-width="2.13" />
<ellipse cx="222.3" cy="380.2" rx="3.6799999999999997" ry="4.6" transform="rotate(-20 222.3 380.2)" fill="#fafafa" stroke="#111" stroke-width="1.7" />
<ellipse cx="217.3" cy="355.2" rx="5.32" ry="7" transform="rotate(-20 217.3 355.2)" fill="#fafafa" stroke="#111" stroke-width="1.34" />
<ellipse cx="216" cy="354.5" rx="5.32" ry="7" transform="rotate(-20 216 354.5)" fill="#fafafa" stroke="#111" stroke-width="1.79" />
<ellipse cx="216" cy="354.5" rx="2.4320000000000004" ry="3.2" transform="rotate(-20 216 354.5)" fill="#fafafa" stroke="#111" stroke-width="1.57" />
<ellipse cx="247.3" cy="400.7" rx="4.5600000000000005" ry="6" transform="rotate(-20 247.3 400.7)" fill="#fafafa" stroke="#111" stroke-width="1.34" />
<ellipse cx="246" cy="400" rx="4.5600000000000005" ry="6" transform="rotate(-20 246 400)" fill="#fafafa" stroke="#111" stroke-width="1.79" />
<ellipse cx="246" cy="400" rx="2.1279999999999997" ry="2.8" transform="rotate(-20 246 400)" fill="#fafafa" stroke="#111" stroke-width="1.57" />
<ellipse cx="308.3" cy="120.7" rx="5.928" ry="7.8" transform="rotate(-20 308.3 120.7)" fill="#fafafa" stroke="#111" stroke-width="1.34" />
<ellipse cx="307" cy="120" rx="5.928" ry="7.8" transform="rotate(-20 307 120)" fill="#fafafa" stroke="#111" stroke-width="1.79" />
<ellipse cx="307" cy="120" rx="2.888" ry="3.8" transform="rotate(-20 307 120)" fill="#fafafa" stroke="#111" stroke-width="1.57" />
<ellipse cx="317.8" cy="221.7" rx="5.928" ry="7.8" transform="rotate(-20 317.8 221.7)" fill="#fafafa" stroke="#111" stroke-width="1.34" />
<ellipse cx="316.5" cy="221" rx="5.928" ry="7.8" transform="rotate(-20 316.5 221)" fill="#fafafa" stroke="#111" stroke-width="1.79" />
<ellipse cx="316.5" cy="221" rx="2.888" ry="3.8" transform="rotate(-20 316.5 221)" fill="#fafafa" stroke="#111" stroke-width="1.57" />
<ellipse cx="300.8" cy="253.2" rx="5.928" ry="7.8" transform="rotate(-20 300.8 253.2)" fill="#fafafa" stroke="#111" stroke-width="1.34" />
<ellipse cx="299.5" cy="252.5" rx="5.928" ry="7.8" transform="rotate(-20 299.5 252.5)" fill="#fafafa" stroke="#111" stroke-width="1.79" />
<ellipse cx="299.5" cy="252.5" rx="2.888" ry="3.8" transform="rotate(-20 299.5 252.5)" fill="#fafafa" stroke="#111" stroke-width="1.57" />
<ellipse cx="340.3" cy="254.89999999999998" rx="5.928" ry="7.8" transform="rotate(-20 340.3 254.89999999999998)" fill="#fafafa" stroke="#111" stroke-width="1.34" />
<ellipse cx="339" cy="254.2" rx="5.928" ry="7.8" transform="rotate(-20 339 254.2)" fill="#fafafa" stroke="#111" stroke-width="1.79" />
<ellipse cx="339" cy="254.2" rx="2.888" ry="3.8" transform="rotate(-20 339 254.2)" fill="#fafafa" stroke="#111" stroke-width="1.57" />
<ellipse cx="397.8" cy="290.7" rx="5.928" ry="7.8" transform="rotate(-20 397.8 290.7)" fill="#fafafa" stroke="#111" stroke-width="1.34" />
<ellipse cx="396.5" cy="290" rx="5.928" ry="7.8" transform="rotate(-20 396.5 290)" fill="#fafafa" stroke="#111" stroke-width="1.79" />
<ellipse cx="396.5" cy="290" rx="2.888" ry="3.8" transform="rotate(-20 396.5 290)" fill="#fafafa" stroke="#111" stroke-width="1.57" />
<ellipse cx="483.7" cy="251.0" rx="4.864000000000001" ry="6.4" transform="rotate(-20 483.7 251.0)" fill="#fafafa" stroke="#111" stroke-width="1.34" />
<ellipse cx="482.4" cy="250.3" rx="4.864000000000001" ry="6.4" transform="rotate(-20 482.4 250.3)" fill="#fafafa" stroke="#111" stroke-width="1.79" />
<ellipse cx="482.4" cy="250.3" rx="2.2800000000000002" ry="3.0" transform="rotate(-20 482.4 250.3)" fill="#fafafa" stroke="#111" stroke-width="1.57" />
<ellipse cx="481.7" cy="251.39999999999998" rx="5.625" ry="7.5" transform="rotate(-20 481.7 251.39999999999998)" fill="#fafafa" stroke="#111" stroke-width="1.12" />
<ellipse cx="480.7" cy="250.7" rx="5.625" ry="7.5" transform="rotate(-20 480.7 250.7)" fill="#fafafa" stroke="#111" stroke-width="1.9" />
<ellipse cx="480.5" cy="250.89999999999998" rx="2.8499999999999996" ry="3.8" transform="rotate(-20 480.5 250.89999999999998)" fill="#fafafa" stroke="#111" stroke-width="1.52" />
<ellipse cx="523.1" cy="303.5" rx="6.545" ry="8.5" transform="rotate(-20 523.1 303.5)" fill="#fafafa" stroke="#111" stroke-width="1.12" />
<ellipse cx="522.1" cy="302.8" rx="6.545" ry="8.5" transform="rotate(-20 522.1 302.8)" fill="#fafafa" stroke="#111" stroke-width="2.13" />
<ellipse cx="521.9" cy="303.0" rx="3.3880000000000003" ry="4.4" transform="rotate(-20 521.9 303.0)" fill="#fafafa" stroke="#111" stroke-width="1.7" />
<ellipse cx="536.0" cy="312.2" rx="6.545" ry="8.5" transform="rotate(-20 536.0 312.2)" fill="#fafafa" stroke="#111" stroke-width="1.12" />
<ellipse cx="535" cy="311.5" rx="6.545" ry="8.5" transform="rotate(-20 535 311.5)" fill="#fafafa" stroke="#111" stroke-width="2.13" />
<ellipse cx="534.8" cy="311.7" rx="3.3880000000000003" ry="4.4" transform="rotate(-20 534.8 311.7)" fill="#fafafa" stroke="#111" stroke-width="1.7" />
<ellipse cx="548.0" cy="341.0" rx="8.879999999999999" ry="12" transform="rotate(-18 548.0 341.0)" fill="#fafafa" stroke="#111" stroke-width="1.12" />
<ellipse cx="547" cy="340.3" rx="8.879999999999999" ry="12" transform="rotate(-18 547 340.3)" fill="#fafafa" stroke="#111" stroke-width="2.24" />
<ellipse cx="546.8" cy="340.5" rx="3.6260000000000003" ry="4.9" transform="rotate(-18 546.8 340.5)" fill="#fafafa" stroke="#111" stroke-width="1.79" />
<ellipse cx="513.9" cy="340.3" rx="5.699999999999999" ry="7.6" transform="rotate(-20 513.9 340.3)" fill="#fafafa" stroke="#111" stroke-width="1.12" />
<ellipse cx="512.9" cy="339.6" rx="5.699999999999999" ry="7.6" transform="rotate(-20 512.9 339.6)" fill="#fafafa" stroke="#111" stroke-width="2.02" />
<ellipse cx="512.6999999999999" cy="339.8" rx="2.8499999999999996" ry="3.8" transform="rotate(-20 512.6999999999999 339.8)" fill="#fafafa" stroke="#111" stroke-width="1.61" />
<ellipse cx="512.0" cy="383.3" rx="5.476" ry="7.4" transform="rotate(-20 512.0 383.3)" fill="#fafafa" stroke="#111" stroke-width="1.12" />
<ellipse cx="511" cy="382.6" rx="5.476" ry="7.4" transform="rotate(-20 511 382.6)" fill="#fafafa" stroke="#111" stroke-width="2.02" />
<ellipse cx="510.8" cy="382.8" rx="2.664" ry="3.6" transform="rotate(-20 510.8 382.8)" fill="#fafafa" stroke="#111" stroke-width="1.61" />
<ellipse cx="512.5" cy="403.1" rx="2.6" ry="3.6" transform="rotate(-20 512.5 403.1)" fill="#fafafa" stroke="#111" stroke-width="1.68" />
<ellipse cx="563.5" cy="381.7" rx="9.0" ry="12.5" transform="rotate(-18 563.5 381.7)" fill="#fafafa" stroke="#111" stroke-width="1.12" />
<ellipse cx="562.5" cy="381" rx="9.0" ry="12.5" transform="rotate(-18 562.5 381)" fill="#fafafa" stroke="#111" stroke-width="2.35" />
<ellipse cx="562.3" cy="381.2" rx="3.528" ry="4.9" transform="rotate(-18 562.3 381.2)" fill="#fafafa" stroke="#111" stroke-width="1.88" />
<ellipse cx="563.5" cy="414.2" rx="9.0" ry="12.5" transform="rotate(-18 563.5 414.2)" fill="#fafafa" stroke="#111" stroke-width="1.12" />
<ellipse cx="562.5" cy="413.5" rx="9.0" ry="12.5" transform="rotate(-18 562.5 413.5)" fill="#fafafa" stroke="#111" stroke-width="2.35" />
<ellipse cx="562.3" cy="413.7" rx="3.528" ry="4.9" transform="rotate(-18 562.3 413.7)" fill="#fafafa" stroke="#111" stroke-width="1.88" />
<ellipse cx="534.3" cy="429.2" rx="6.84" ry="9" transform="rotate(-20 534.3 429.2)" fill="#fafafa" stroke="#111" stroke-width="1.34" />
<ellipse cx="533" cy="428.5" rx="6.84" ry="9" transform="rotate(-20 533 428.5)" fill="#fafafa" stroke="#111" stroke-width="1.79" />
<ellipse cx="533" cy="428.5" rx="2.66" ry="3.5" transform="rotate(-20 533 428.5)" fill="#fafafa" stroke="#111" stroke-width="1.57" />
<ellipse cx="553.3" cy="432.2" rx="7.22" ry="9.5" transform="rotate(-20 553.3 432.2)" fill="#fafafa" stroke="#111" stroke-width="1.34" />
<ellipse cx="552" cy="431.5" rx="7.22" ry="9.5" transform="rotate(-20 552 431.5)" fill="#fafafa" stroke="#111" stroke-width="1.79" />
<ellipse cx="552" cy="431.5" rx="2.888" ry="3.8" transform="rotate(-20 552 431.5)" fill="#fafafa" stroke="#111" stroke-width="1.57" />
<ellipse cx="462.25" cy="513.7" rx="6.708" ry="8.6" transform="rotate(-20 462.25 513.7)" fill="#fafafa" stroke="#111" stroke-width="1.12" />
<ellipse cx="461.25" cy="513" rx="6.708" ry="8.6" transform="rotate(-20 461.25 513)" fill="#fafafa" stroke="#111" stroke-width="2.02" />
<ellipse cx="461.05" cy="513.2" rx="3.4320000000000004" ry="4.4" transform="rotate(-20 461.05 513.2)" fill="#fafafa" stroke="#111" stroke-width="1.61" />
<ellipse cx="484.75" cy="532.7" rx="6.708" ry="8.6" transform="rotate(-20 484.75 532.7)" fill="#fafafa" stroke="#111" stroke-width="1.12" />
<ellipse cx="483.75" cy="532" rx="6.708" ry="8.6" transform="rotate(-20 483.75 532)" fill="#fafafa" stroke="#111" stroke-width="2.02" />
<ellipse cx="483.55" cy="532.2" rx="3.4320000000000004" ry="4.4" transform="rotate(-20 483.55 532.2)" fill="#fafafa" stroke="#111" stroke-width="1.61" />
<ellipse cx="514.5" cy="549.2" rx="6.708" ry="8.6" transform="rotate(-20 514.5 549.2)" fill="#fafafa" stroke="#111" stroke-width="1.12" />
<ellipse cx="513.5" cy="548.5" rx="6.708" ry="8.6" transform="rotate(-20 513.5 548.5)" fill="#fafafa" stroke="#111" stroke-width="2.02" />
<ellipse cx="513.3" cy="548.7" rx="3.4320000000000004" ry="4.4" transform="rotate(-20 513.3 548.7)" fill="#fafafa" stroke="#111" stroke-width="1.61" />
<ellipse cx="540.5" cy="556.7" rx="6.708" ry="8.6" transform="rotate(-20 540.5 556.7)" fill="#fafafa" stroke="#111" stroke-width="1.12" />
<ellipse cx="539.5" cy="556" rx="6.708" ry="8.6" transform="rotate(-20 539.5 556)" fill="#fafafa" stroke="#111" stroke-width="2.02" />
<ellipse cx="539.3" cy="556.2" rx="3.4320000000000004" ry="4.4" transform="rotate(-20 539.3 556.2)" fill="#fafafa" stroke="#111" stroke-width="1.61" />
<ellipse cx="549.5" cy="460.2" rx="6.715999999999999" ry="9.2" transform="rotate(-20 549.5 460.2)" fill="#fafafa" stroke="#111" stroke-width="1.12" />
<ellipse cx="548.5" cy="459.5" rx="6.715999999999999" ry="9.2" transform="rotate(-20 548.5 459.5)" fill="#fafafa" stroke="#111" stroke-width="2.13" />
<ellipse cx="548.3" cy="459.7" rx="3.504" ry="4.8" transform="rotate(-20 548.3 459.7)" fill="#fafafa" stroke="#111" stroke-width="1.7" />
<ellipse cx="550.0" cy="490.7" rx="6.715999999999999" ry="9.2" transform="rotate(-20 550.0 490.7)" fill="#fafafa" stroke="#111" stroke-width="1.12" />
<ellipse cx="549" cy="490" rx="6.715999999999999" ry="9.2" transform="rotate(-20 549 490)" fill="#fafafa" stroke="#111" stroke-width="2.13" />
<ellipse cx="548.8" cy="490.2" rx="3.504" ry="4.8" transform="rotate(-20 548.8 490.2)" fill="#fafafa" stroke="#111" stroke-width="1.7" />
<ellipse cx="549.5" cy="514.7" rx="6.715999999999999" ry="9.2" transform="rotate(-20 549.5 514.7)" fill="#fafafa" stroke="#111" stroke-width="1.12" />
<ellipse cx="548.5" cy="514" rx="6.715999999999999" ry="9.2" transform="rotate(-20 548.5 514)" fill="#fafafa" stroke="#111" stroke-width="2.13" />
<ellipse cx="548.3" cy="514.2" rx="3.504" ry="4.8" transform="rotate(-20 548.3 514.2)" fill="#fafafa" stroke="#111" stroke-width="1.7" />
<ellipse cx="546.0" cy="535.7" rx="6.715999999999999" ry="9.2" transform="rotate(-20 546.0 535.7)" fill="#fafafa" stroke="#111" stroke-width="1.12" />
<ellipse cx="545" cy="535" rx="6.715999999999999" ry="9.2" transform="rotate(-20 545 535)" fill="#fafafa" stroke="#111" stroke-width="2.13" />
<ellipse cx="544.8" cy="535.2" rx="3.504" ry="4.8" transform="rotate(-20 544.8 535.2)" fill="#fafafa" stroke="#111" stroke-width="1.7" />
<ellipse cx="491.3" cy="508.2" rx="5.32" ry="7" transform="rotate(-20 491.3 508.2)" fill="#fafafa" stroke="#111" stroke-width="1.34" />
<ellipse cx="490" cy="507.5" rx="5.32" ry="7" transform="rotate(-20 490 507.5)" fill="#fafafa" stroke="#111" stroke-width="1.79" />
<ellipse cx="490" cy="507.5" rx="2.4320000000000004" ry="3.2" transform="rotate(-20 490 507.5)" fill="#fafafa" stroke="#111" stroke-width="1.57" />
<ellipse cx="511.5" cy="492.5" rx="11.5" ry="16" transform="rotate(-25 511.5 492.5)" fill="none" stroke="#111" stroke-width="1.68" />
<ellipse cx="509.9" cy="491.2" rx="11.5" ry="16" transform="rotate(-25 509.9 491.2)" fill="none" stroke="#111" stroke-width="1.34" stroke-dasharray="0 44 30 100"/>
</g>
<path d="M46,557 H224" fill="none" stroke="#111" stroke-width="1.79" />
<path d="M46,594 H224" fill="none" stroke="#111" stroke-width="1.4" />
<path d="M46,632 H224" fill="none" stroke="#111" stroke-width="1.4" />
<path d="M46.5,557 V632" fill="none" stroke="#111" stroke-width="1.4" />
<path d="M120,557 V632" fill="none" stroke="#111" stroke-width="1.4" />
<circle cx="71.3" cy="575" r="11.6" fill="#fafafa" stroke="#111" stroke-width="1.7"/>
<circle cx="71.3" cy="575" r="6" fill="#fafafa" stroke="#111" stroke-width="1.7"/>
<rect x="98" y="563.5" width="5" height="23.5" fill="#111"/>
<rect x="100" y="569" width="1" height="12" fill="#bbb"/>
<path d="M58.5,601 H64.5 L66,603 V621.5 L64.5,623.8 H58.5 L57,621.5 V603 Z M57,604.5 H66 M57,620.3 H66" fill="none" stroke="#111" stroke-width="1.46" />
<path d="M66,607.2 H82.5 M66,617.6 H82.5" fill="none" stroke="#111" stroke-width="1.57" />
<path d="M82.5,607.6 H108 M82.5,617.2 H108" fill="none" stroke="#111" stroke-width="2.24" />
<path d="M109.2,607.6 V617.2" fill="none" stroke="#111" stroke-width="2.02" />
<path d="M82.8,607.5 V617.5" fill="none" stroke="#111" stroke-width="1.46" />
<path d="M84,609.6 H108 M84,615.4 H108" fill="none" stroke="#888" stroke-width="0.8" stroke-dasharray="1 1"/>
<text x="131" y="582" font-size="19" fill="#2a2a2a" >7, 9</text>
<text x="130.5" y="619" font-size="19" fill="#2a2a2a" >2, 3, 4, 5</text>
<g stroke-linejoin="round" stroke-linecap="round">
<path d="M681.5,485.5 L729,461 L768.5,472 Q772,473.5 771,476.5 L723,499 L720,516.5 L659,564 C652,567 645,563 641,555 C638,549 638,545 640,542 Z" fill="#fafafa" stroke="#111" stroke-width="2.24" />
<path d="M681.5,485.5 L722.5,498 L770.5,472.5" fill="none" stroke="#111" stroke-width="1.79" />
<path d="M724,501.5 L771,478" fill="none" stroke="#111" stroke-width="1.23" />
<ellipse cx="741.5" cy="472" rx="5.3" ry="3.2" transform="rotate(5 741.5 472)" fill="none" stroke="#111" stroke-width="1.57" />
<ellipse cx="649" cy="552.5" rx="3.8" ry="4.8" transform="rotate(-20 649 552.5)" fill="none" stroke="#111" stroke-width="1.57" />
</g>
<path d="M692.7,441 V476.5" fill="none" stroke="#111" stroke-width="2.02" />
<path d="M741.5,439 V459 M741.5,462 V464 M741.5,466 V470" fill="none" stroke="#111" stroke-width="2.02" />
<path d="M741.5,497 V507 M741.5,509.5 V511.5 M741.5,514 V528" fill="none" stroke="#111" stroke-width="2.02" />
<path d="M741.5,524 L755.5,546 L750,549 V561" fill="none" stroke="#111" stroke-width="2.02" />
<path d="M741.5,524 L763,540 L769,537.5 L778,543" fill="none" stroke="#111" stroke-width="2.02" />
<path d="M597,582 L605.5,578.3 M609.6,575.5 L643.5,556" fill="none" stroke="#111" stroke-width="2.46" />
<text x="687.5" y="436.5" font-size="17" fill="#2a2a2a" >8</text>
<text x="778.5" y="561.5" font-size="17" fill="#2a2a2a" >9</text>
<text x="753" y="578" font-size="17" fill="#2a2a2a" >4</text>
<text x="73.5" y="92" font-size="17" fill="#2a2a2a" >1</text>
<path d="M92.5,90.5 L164,110" fill="none" stroke="#111" stroke-width="2.13" />
<text x="164.5" y="437" font-size="17" fill="#2a2a2a" >6</text>
<path d="M185,432.5 L247.5,438" fill="none" stroke="#111" stroke-width="2.13" />
<text x="399.2" y="49.7" font-size="17" fill="#2a2a2a" >4</text>
<path d="M395,61.8 L403.7,66.8 L411.2,63 L424.2,89.2" fill="none" stroke="#111" stroke-width="2.13" />
<path d="M424.9,44.3 L424.2,53.7 L418,58.7 L424.2,89.2" fill="none" stroke="#111" stroke-width="2.13" />
<path d="M411.8,98.3 L439.8,82.3" fill="none" stroke="#111" stroke-width="2.46" />
<path d="M401.2,104.8 L408,101" fill="none" stroke="#111" stroke-width="2.46" />
<text x="119.2" y="359.7" font-size="17" fill="#2a2a2a" >2</text>
<text x="141.8" y="347.9" font-size="17" fill="#2a2a2a" >7</text>
<path d="M114.4,363.5 L124.1,369 L138.5,361.4 L150.9,384.8" fill="none" stroke="#111" stroke-width="2.02" />
<path d="M160.5,340.8 L157.1,350.4 L146.1,356.6 L150.9,384.8" fill="none" stroke="#111" stroke-width="2.02" />
<path d="M140.6,392.4 L167.4,377.3" fill="none" stroke="#111" stroke-width="2.46" />
<path d="M171.5,374.5 L181.2,369 M183.9,367 L194,361.3" fill="none" stroke="#111" stroke-width="2.46" />
<text x="433.3" y="563.2" font-size="17" fill="#2a2a2a" >3</text>
<path d="M426.4,574.2 L436.1,579.1 L443.4,575.9 L456.4,601.1" fill="none" stroke="#111" stroke-width="2.02" />
<path d="M456.9,557.2 L455.6,566.1 L449.9,571 L456.4,601.1" fill="none" stroke="#111" stroke-width="2.02" />
<path d="M446.7,609.2 L473.5,594.6 M477.6,592.1 L485.7,588.1 M488.9,585.6 L519,569.4 M521.4,567.7 L528.7,563.7 M531.2,561.2 L538.5,556.4" fill="none" stroke="#111" stroke-width="2.46" />
<text x="592" y="244" font-size="17" fill="#2a2a2a" >5</text>
<path d="M571.8,202.4 L593.6,221.7 L600.4,218 L608.5,223.6" fill="none" stroke="#111" stroke-width="2.13" />
<path d="M571.8,202.4 L586.7,226.1 L579.9,229.8 L579.6,241" fill="none" stroke="#111" stroke-width="2.13" />
<path d="M529,226 L539,220.5 M541.9,218 L549.3,213.9 M554.3,211.2 L582.4,195.6" fill="none" stroke="#111" stroke-width="2.46" />
</g>
</svg>
</body></html>
